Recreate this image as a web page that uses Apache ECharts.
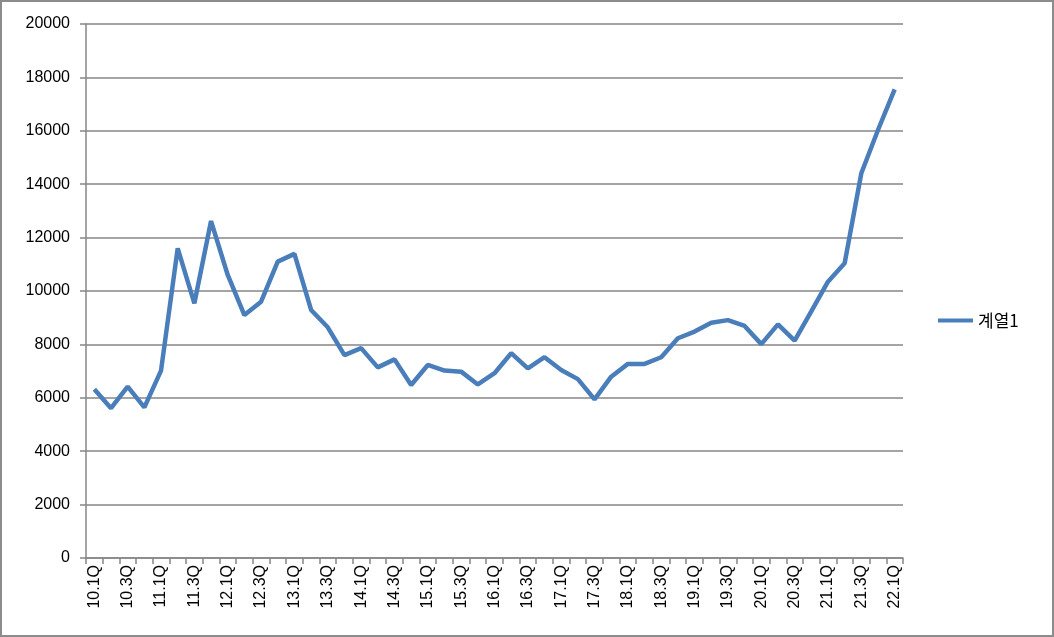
<!DOCTYPE html>
<html><head><meta charset="utf-8">
<script src="https://cdn.jsdelivr.net/npm/echarts@6/dist/echarts.min.js"></script>
<style>
html,body{margin:0;padding:0;background:#fff;}
#c{width:1054px;height:637px;box-sizing:border-box;border:2px solid #8c8c8c;}
</style></head>
<body><div id="c"></div>
<script>
const categories = ["10.1Q","10.2Q","10.3Q","10.4Q","11.1Q","11.2Q","11.3Q","11.4Q","12.1Q","12.2Q","12.3Q","12.4Q","13.1Q","13.2Q","13.3Q","13.4Q","14.1Q","14.2Q","14.3Q","14.4Q","15.1Q","15.2Q","15.3Q","15.4Q","16.1Q","16.2Q","16.3Q","16.4Q","17.1Q","17.2Q","17.3Q","17.4Q","18.1Q","18.2Q","18.3Q","18.4Q","19.1Q","19.2Q","19.3Q","19.4Q","20.1Q","20.2Q","20.3Q","20.4Q","21.1Q","21.2Q","21.3Q","21.4Q","22.1Q"];
const seriesName = "계열1";
const values = [6320,5610,6420,5640,7020,11600,9540,12620,10600,9100,9600,11100,11390,9290,8640,7600,7860,7140,7440,6480,7230,7020,6980,6500,6920,7670,7100,7520,7040,6700,5940,6790,7270,7270,7520,8230,8480,8810,8910,8690,8010,8750,8140,9240,10350,11040,14410,16030,17550];
const yTicks = {min:0, max:20000, interval:2000};

const chart = echarts.init(document.getElementById('c'));
chart.setOption({
  animation:false,
  textStyle:{fontFamily:'Liberation Sans, Arial, sans-serif'},
  grid:{left:84,top:22,width:817,height:534,containLabel:false},
  legend:{
    data:[{name:seriesName,icon:'rect'}],
    left:931, top:305, itemWidth:35, itemHeight:4, itemGap:8,
    textStyle:{fontSize:17,color:'#000',fontFamily:'Noto Sans CJK KR, sans-serif'}
  },
  xAxis:{
    type:'category', data:categories, boundaryGap:true,
    axisLine:{lineStyle:{color:'#868686',width:1.5}},
    axisTick:{show:true,interval:0,length:6,lineStyle:{color:'#868686',width:1.5}},
    axisLabel:{interval:1,rotate:90,color:'#000',fontSize:16,margin:7},
    splitLine:{show:false}
  },
  yAxis:{
    type:'value', min:yTicks.min, max:yTicks.max, interval:yTicks.interval,
    axisLine:{show:true,lineStyle:{color:'#868686',width:1.5}},
    axisTick:{show:true,length:6,lineStyle:{color:'#868686',width:1.5}},
    axisLabel:{color:'#000',fontSize:16,margin:16,formatter:function(v){return String(v);}},
    splitLine:{lineStyle:{color:'#868686',width:1.5}}
  },
  series:[{
    name:seriesName, type:'line', data:values, symbol:'none',
    lineStyle:{color:'#4a7ebb',width:4.5}, itemStyle:{color:'#4a7ebb'}
  }]
});
</script></body></html>
